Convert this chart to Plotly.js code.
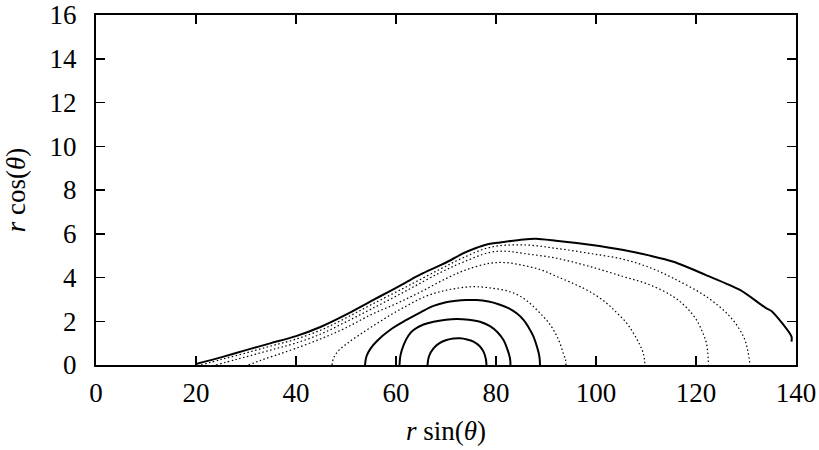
<!DOCTYPE html>
<html>
<head>
<meta charset="utf-8">
<script src="https://cdn.plot.ly/plotly-3.0.1.min.js"></script>
<style>
  html, body { margin: 0; padding: 0; background: #fff; }
  #chart { width: 819px; height: 450px; }
</style>
</head>
<body>
<div id="chart"></div>
<script>
// Outer boundary of the region (solid)
const outerX = [20, 25, 30, 35, 40, 45, 50, 55, 58.8, 62, 65, 68.8, 71, 73.4, 76, 78, 80.8, 85.5, 88, 92, 98.8, 105.5, 110.8, 115.5, 122, 128.8, 134, 135.2, 139.1, 139.1];
const outerY = [0.05, 0.35, 0.68, 1.0, 1.32, 1.75, 2.3, 2.92, 3.38, 3.78, 4.15, 4.55, 4.8, 5.1, 5.35, 5.5, 5.6, 5.74, 5.77, 5.68, 5.5, 5.26, 5.0, 4.72, 4.11, 3.43, 2.6, 2.45, 1.3, 1.07];

// Dotted contour levels, outermost first
const dot1X = [21, 25, 30, 35, 39.8, 45, 49.8, 55, 62.1, 68.8, 73.4, 78.8, 85.5, 92.1, 98.8, 105.5, 110.8, 115.5, 122.1, 126.8, 129.5, 130.4, 130.8];
const dot1Y = [0, 0.25, 0.55, 0.87, 1.17, 1.6, 2.13, 2.75, 3.58, 4.38, 4.9, 5.38, 5.49, 5.33, 5.1, 4.83, 4.45, 3.96, 3.12, 2.21, 1.3, 0.6, 0];

const dot2X = [24, 28, 32, 36, 39.8, 45, 49.8, 55, 62.1, 68.8, 73.4, 78.8, 82, 85.5, 92.1, 98.8, 105.5, 110.8, 115.5, 118, 120.1, 121.3, 122.1, 122.5];
const dot2Y = [0, 0.25, 0.5, 0.75, 0.99, 1.42, 1.95, 2.55, 3.4, 4.22, 4.7, 5.15, 5.2, 5.1, 4.88, 4.5, 4.04, 3.66, 3.12, 2.65, 2.06, 1.5, 0.99, 0];

const dot3X = [30.5, 33, 36, 39.8, 45, 49.8, 55, 60, 65, 70, 74, 78.8, 82, 85.5, 89, 92.1, 95.5, 98.8, 102, 104.1, 106, 107.5, 108.7, 109.5, 109.8];
const dot3Y = [0, 0.22, 0.45, 0.75, 1.2, 1.68, 2.3, 2.8, 3.35, 3.95, 4.35, 4.65, 4.68, 4.55, 4.35, 4.05, 3.72, 3.35, 2.85, 2.4, 1.95, 1.45, 0.95, 0.5, 0];

const dot4X = [47.2, 47.5, 48.3, 50, 52.5, 55.5, 59, 62.1, 65.5, 68.8, 72, 75.5, 79, 82.8, 85.5, 87.5, 89.5, 90.8, 92, 92.8, 93.5, 93.9, 94];
const dot4Y = [0, 0.3, 0.6, 0.95, 1.35, 1.8, 2.3, 2.7, 3.1, 3.35, 3.5, 3.58, 3.52, 3.35, 3.05, 2.67, 2.2, 1.85, 1.4, 0.99, 0.5, 0.25, 0];

// Inner solid contour levels, outermost first
const sol3X = [53.8, 54.1, 54.9, 56.2, 58.8, 62.1, 65, 67.5, 70, 72.1, 74, 76.1, 78.5, 80.5, 82.5, 84.2, 85.5, 86.7, 87.5, 88.3, 88.7, 88.8];
const sol3Y = [0, 0.4, 0.75, 1.1, 1.6, 2.06, 2.42, 2.7, 2.87, 2.94, 2.97, 2.97, 2.9, 2.78, 2.6, 2.35, 2.06, 1.65, 1.3, 0.75, 0.35, 0];

const sol2X = [60.7, 60.9, 61.6, 62.5, 63.5, 65.5, 67.5, 70, 72.1, 74.5, 76.8, 78.8, 80.3, 81.5, 82.3, 82.8, 82.9];
const sol2Y = [0, 0.45, 0.95, 1.35, 1.6, 1.85, 1.98, 2.07, 2.1, 2.07, 1.98, 1.78, 1.5, 1.14, 0.7, 0.3, 0];

const sol1X = [66.3, 66.6, 67.5, 68.7, 70.1, 71.5, 72.8, 74.2, 75.5, 76.7, 77.5, 77.95, 78.1];
const sol1Y = [0, 0.4, 0.76, 1.0, 1.14, 1.21, 1.22, 1.17, 1.07, 0.87, 0.61, 0.3, 0];

// Axis ticks
const xTicks = [0, 20, 40, 60, 80, 100, 120, 140];
const yTicks = [0, 2, 4, 6, 8, 10, 12, 14, 16];

const FONT = '"Liberation Serif", "Times New Roman", serif';

function solid(x, y, w) {
  return { x: x, y: y, mode: 'lines', type: 'scatter', hoverinfo: 'skip',
           line: { color: '#000', width: w, shape: 'spline', smoothing: 1 } };
}
function dotted(x, y) {
  return { x: x, y: y, mode: 'lines', type: 'scatter', hoverinfo: 'skip',
           line: { color: '#000', width: 1.2, dash: '1.5px,2.5px', shape: 'spline', smoothing: 1 } };
}

const traces = [
  dotted(dot1X, dot1Y),
  dotted(dot2X, dot2Y),
  dotted(dot3X, dot3Y),
  dotted(dot4X, dot4Y),
  solid(sol3X, sol3Y, 2),
  solid(sol2X, sol2Y, 2),
  solid(sol1X, sol1Y, 2),
  { x: outerX, y: outerY, mode: 'lines', type: 'scatter', hoverinfo: 'skip',
    line: { color: '#000', width: 2, shape: 'spline', smoothing: 0.7 } }
];

const axisCommon = {
  showgrid: false, zeroline: false,
  showline: true, linecolor: '#000', linewidth: 2, mirror: 'ticks',
  ticks: 'inside', ticklen: 9, tickwidth: 1.5, tickcolor: '#000',
  tickfont: { family: FONT, size: 27, color: '#000' }
};

const layout = {
  width: 819, height: 450,
  margin: { l: 96, r: 23, t: 15, b: 85 },
  paper_bgcolor: '#fff', plot_bgcolor: '#fff',
  showlegend: false,
  font: { family: FONT, color: '#000' },
  xaxis: Object.assign({}, axisCommon, {
    range: [0, 140], tickvals: xTicks, ticktext: xTicks.map(String),
    ticklabelstandoff: 3,
    title: { text: '<i>r</i> sin(<i>θ</i>)', font: { family: FONT, size: 27, color: '#000' }, standoff: 14 }
  }),
  yaxis: Object.assign({}, axisCommon, {
    range: [0, 16], tickvals: yTicks, ticktext: yTicks.map(String),
    ticklabelstandoff: 12,
    title: { text: '<i>r</i> cos(<i>θ</i>)', font: { family: FONT, size: 27, color: '#000' }, standoff: 16 }
  })
};

Plotly.newPlot('chart', traces, layout, { displayModeBar: false, staticPlot: true });
</script>
</body>
</html>
